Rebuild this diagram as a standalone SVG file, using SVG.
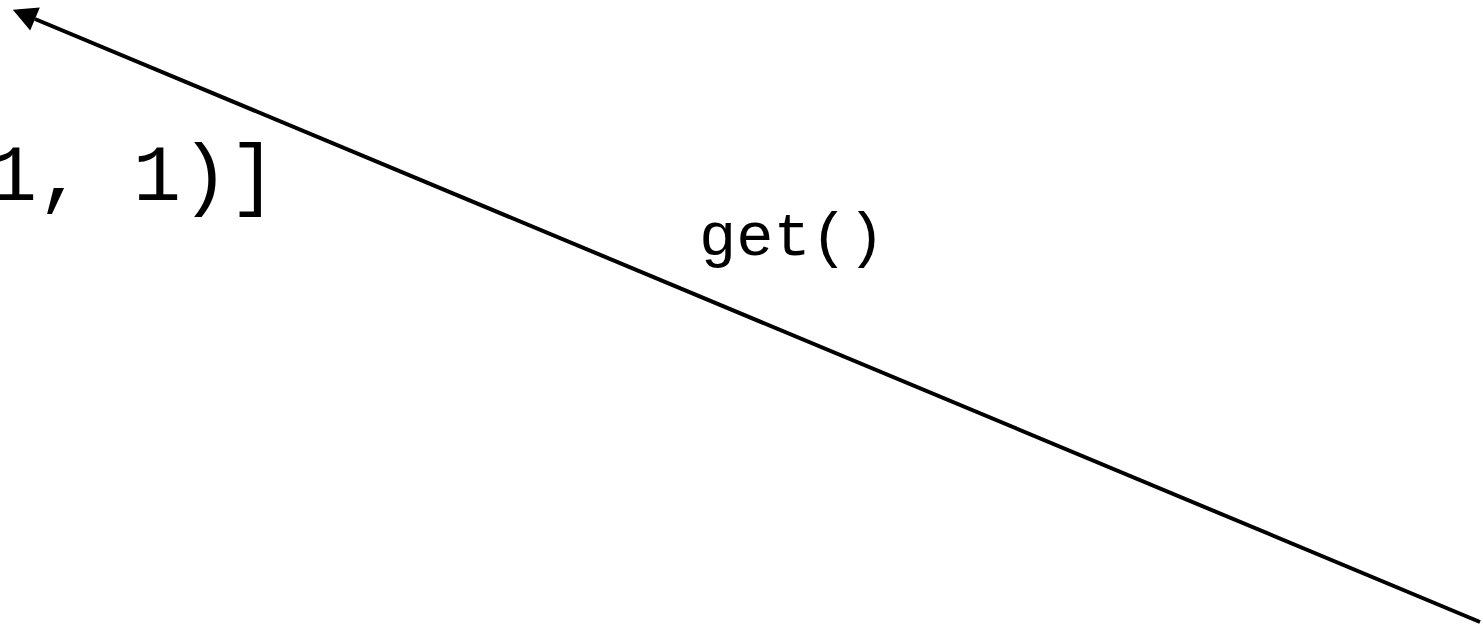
<svg xmlns="http://www.w3.org/2000/svg" width="1483" height="628" viewBox="0 0 1483 628">
  <style>
    .lbl { font-family: "Liberation Mono", "DejaVu Sans Mono", monospace; fill: #000; }
    .edge { stroke: #000; stroke-width: 4; fill: none; }
  </style>
  <defs>
    <marker id="arrow" markerUnits="userSpaceOnUse" markerWidth="26" markerHeight="26" viewBox="0 -13 26 26" refX="0" refY="0" orient="auto" overflow="visible">
      <path d="M0,-12.5 L24,0 L0,12.5 z" fill="#000"/>
    </marker>
  </defs>
  <rect width="1483" height="628" fill="#fff"/>
  <g id="node-list">
    <text class="lbl" x="-11" y="200" font-size="80">1, 1)]</text>
  </g>
  <g id="connectors">
    <line class="edge" x1="1480" y1="622" x2="35" y2="19" marker-end="url(#arrow)"/>
    <text class="lbl" x="699" y="255" font-size="62">get()</text>
  </g>
</svg>
